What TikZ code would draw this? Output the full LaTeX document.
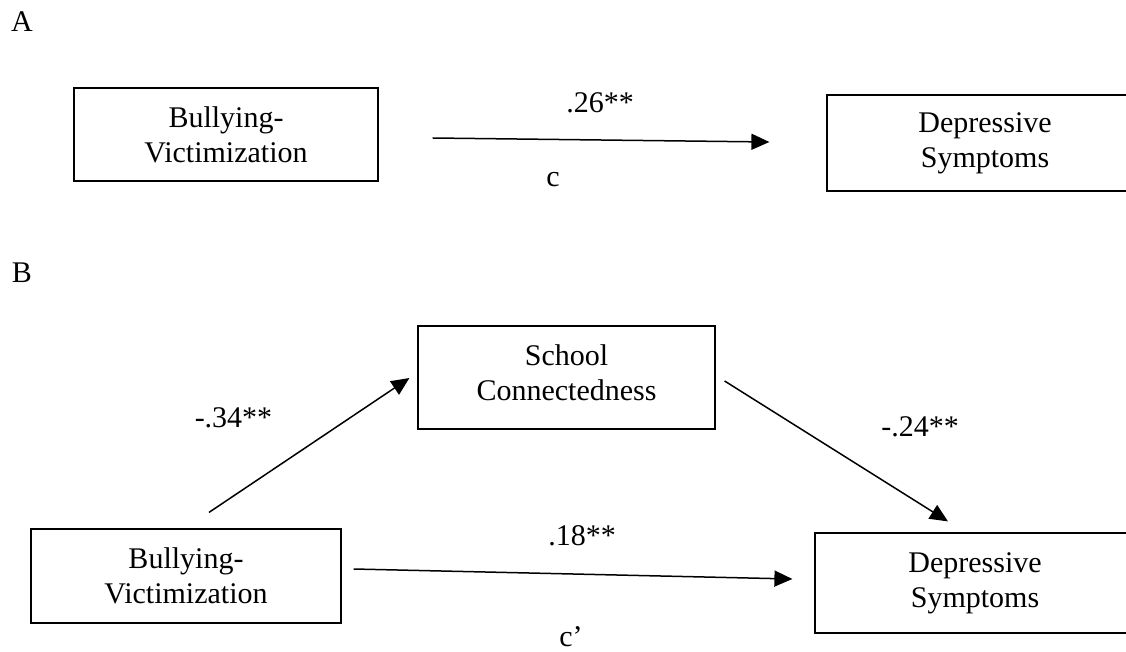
\documentclass[tikz,border=0pt]{standalone}
\usepackage{fontspec}
\setmainfont{Liberation Serif}
\usetikzlibrary{arrows.meta,calc}
\begin{document}
\begin{tikzpicture}[x=1pt,y=-1pt,
  box/.style={draw, line width=1.2pt, inner sep=0pt, align=center, font=\fontsize{30}{35}\selectfont},
  txt/.style={align=center, inner sep=0pt, font=\fontsize{30}{35}\selectfont},
  lab/.style={anchor=base, inner sep=0pt, font=\fontsize{30}{35}\selectfont},
  arr/.style={line width=1.5pt, -{Triangle[length=18pt,width=16pt]}}]
\useasboundingbox (0,0) rectangle (1126,652);
\clip (0,0) rectangle (1126,652);
% panel A
\node[lab] (lA) at (22,32) {A};
\node[box, minimum width=304pt, minimum height=93pt] (a1) at (226,134.5) {Bullying-\\Victimization};
\node[box, minimum width=316pt, minimum height=96pt] (a2) at (985,143) {Depressive\\Symptoms};
\draw[arr] ($(a1.east)+(54,3.5)$) -- ($(a2.west)+(-57,-1)$);
\node[lab] (l26) at (600,113) {.26**};
\node[lab] (lc) at (553,187) {c};
% panel B
\node[lab] (lB) at (22,282) {B};
\node[box, minimum width=297pt, minimum height=103pt] (sc) at (566.5,377.5) {};
\node[txt] (sct) at (566.5,372.5) {School\\Connectedness};
\node[box, minimum width=310pt, minimum height=94pt] (b1) at (186,576) {Bullying-\\Victimization};
\node[box, minimum width=320pt, minimum height=100pt] (b2) at (975,583) {Depressive\\Symptoms};
\draw[arr] ($(b1.north)+(23,-16)$) -- ($(sc.west)+(-8,0.5)$);
\draw[arr] ($(sc.east)+(9,3.5)$) -- ($(b2.north)+(-27,-11)$);
\draw[arr] ($(b1.east)+(12,-7)$) -- ($(b2.west)+(-22,-4)$);
\node[lab] (l34) at (233.5,427) {-.34**};
\node[lab] (l24) at (920,436) {-.24**};
\node[lab] (l18) at (582,545) {.18**};
\node[lab] (lcp) at (571,646) {c’};
\end{tikzpicture}
\end{document}
